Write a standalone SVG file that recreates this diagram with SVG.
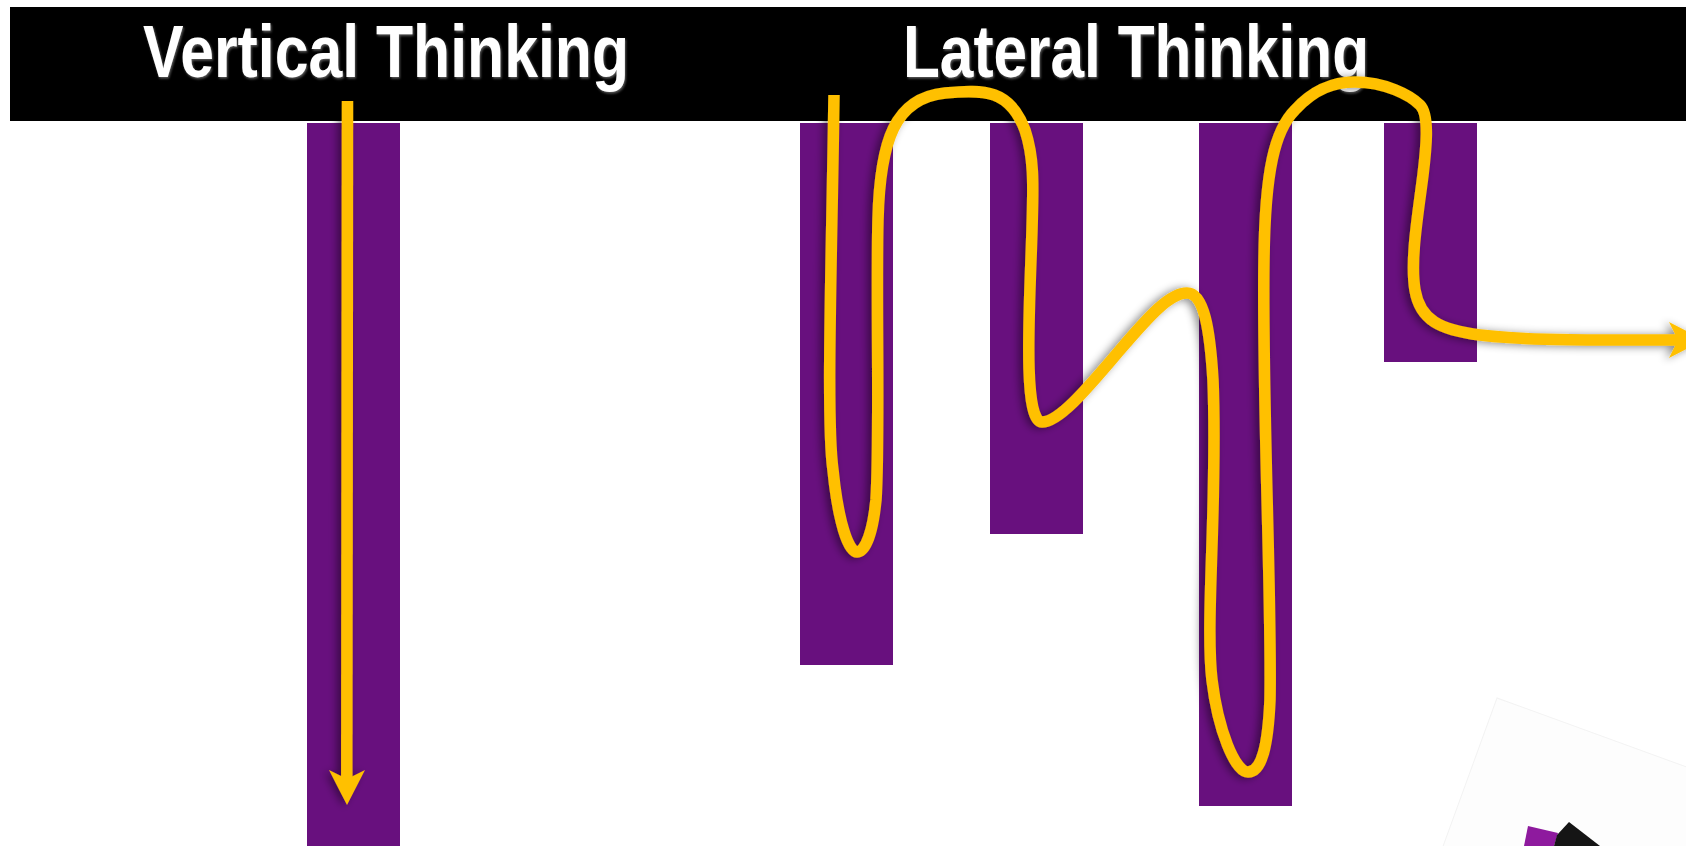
<svg xmlns="http://www.w3.org/2000/svg" width="1686" height="846" viewBox="0 0 1686 846">
  <defs>
    <style>
      .bar { fill: #68107E; }
      .title { font-family: "Liberation Sans Narrow", "Liberation Sans", Arial, sans-serif; font-weight: bold; font-size: 75px; fill: #ffffff; }
      .path { fill: none; stroke: #FFC000; stroke-width: 11.5; stroke-linecap: butt; stroke-linejoin: round; }
      .head { fill: #FFC000; }
    </style>
    <filter id="shadow" x="-20%" y="-20%" width="140%" height="140%">
      <feDropShadow dx="-4" dy="1" stdDeviation="4" flood-color="#000" flood-opacity="0.45"/>
    </filter>
    <filter id="tshadow" x="-10%" y="-20%" width="120%" height="150%">
      <feDropShadow dx="1" dy="1.5" stdDeviation="1" flood-color="#999" flood-opacity="0.6"/>
    </filter>
  </defs>

  <rect x="0" y="0" width="1686" height="846" fill="#ffffff"/>

  <g id="header">
    <rect x="10" y="7" width="1676" height="114" fill="#000000"/>
    <text class="title" x="143" y="77" textLength="486" lengthAdjust="spacingAndGlyphs" filter="url(#tshadow)">Vertical Thinking</text>
    <text class="title" x="903" y="77" textLength="466" lengthAdjust="spacingAndGlyphs" filter="url(#tshadow)">Lateral Thinking</text>
  </g>

  <g id="bar-vertical"><rect class="bar" x="307" y="123" width="93" height="723"/></g>
  <g id="bar-lateral-1"><rect class="bar" x="800" y="123" width="93" height="542"/></g>
  <g id="bar-lateral-2"><rect class="bar" x="990" y="123" width="93" height="411"/></g>
  <g id="bar-lateral-3"><rect class="bar" x="1199" y="123" width="93" height="683"/></g>
  <g id="bar-lateral-4"><rect class="bar" x="1384" y="123" width="93" height="239"/></g>

  <g id="card">
    <g transform="rotate(20 1497 698)">
      <rect x="1497" y="698" width="260" height="220" fill="#fdfdfd" stroke="#f3f3f3" stroke-width="1"/>
    </g>
    <polygon points="1528,826 1558,833 1554,846 1524,846" fill="#8E1A9E"/>
    <polygon points="1569,822 1600,846 1554,846 1557,835" fill="#151515"/>
  </g>

  <g id="connectors" filter="url(#shadow)">
    <g id="vertical-arrow">
      <line class="path" x1="347.5" y1="101" x2="346.8" y2="780"/>
      <polygon class="head" points="347,805 329,770 347,779 365,770"/>
    </g>
    <g id="lateral-arrow">
      <path class="path" d="M 834 95
        C 832 250, 826 420, 833 470
        C 838 520, 848 552, 857 552
        C 866 552, 873 530, 876 500
        C 880 440, 876 300, 878 220
        C 880 140, 895 98, 945 93
        C 985 89, 1010 90, 1025 130
        C 1035 160, 1033 190, 1032 230
        C 1030 300, 1022 422, 1042 422
        C 1060 422, 1090 385, 1120 350
        C 1150 315, 1170 293, 1187 293
        C 1204 293, 1210 330, 1213 380
        C 1218 500, 1205 620, 1212 680
        C 1218 730, 1235 772, 1248 772
        C 1262 772, 1268 745, 1270 700
        C 1272 600, 1262 400, 1264 260
        C 1265 170, 1275 130, 1295 110
        C 1315 88, 1335 82, 1355 82
        C 1385 82, 1410 95, 1420 105
        C 1430 115, 1426 150, 1423 175
        C 1418 215, 1410 260, 1415 290
        C 1420 320, 1440 330, 1480 335
        C 1530 341, 1600 340, 1680 340"/>
      <polygon class="head" points="1704,340 1669,322 1678,340 1669,358"/>
    </g>
  </g>
</svg>
